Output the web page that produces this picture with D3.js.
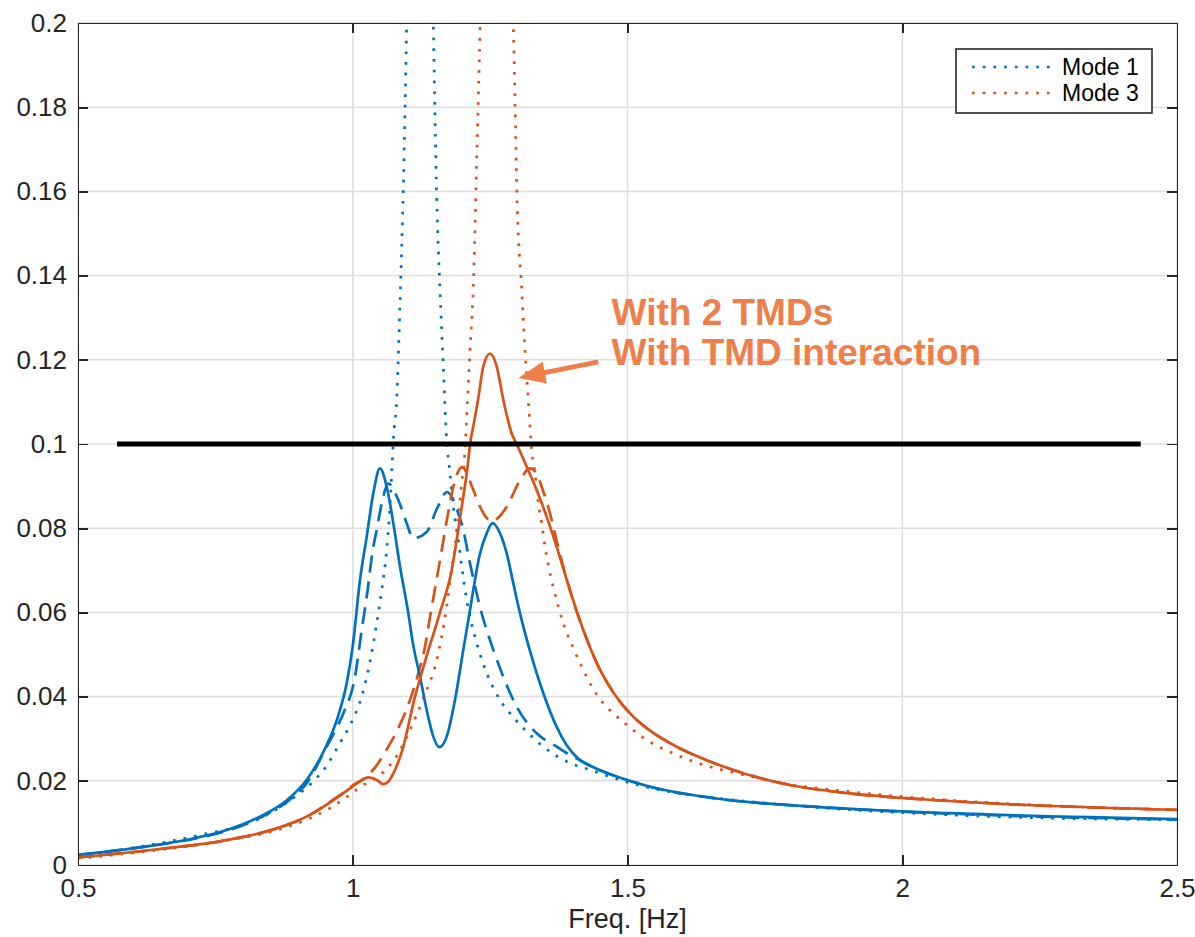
<!DOCTYPE html>
<html>
<head>
    <title>Freq. response with TMDs</title>
    <meta charset="utf-8" />
    <style>
        body { margin: 0; background: #fff; }
        svg { display: block; font-family: "Liberation Sans", Arial, Helvetica, sans-serif; }

        /* Axis style */
        .axis path,
        .axis line {
            stroke: #262626;
            stroke-width: 1.6;
            shape-rendering: crispEdges;
        }
        .axis text {
            fill: #262626;
            font-size: 26px;
        }
        .grid line {
            stroke: #dedede;
            stroke-width: 1.5;
        }
    </style>
    <script src="https://d3js.org/d3.v7.min.js"></script>
</head>
<body>
<script>

// ---- data: [freq Hz, amplitude] ----
let mode1Solid = [
    [0.5, 0.0024], [0.619, 0.0043], [0.7098, 0.0063], [0.7706, 0.0083], [0.831, 0.0115],
    [0.88, 0.0154], [0.916, 0.0202], [0.9526, 0.0285], [0.9737, 0.0355], [0.989, 0.0432],
    [1.0, 0.052], [1.0132, 0.0677], [1.0254, 0.078], [1.0374, 0.0883], [1.0496, 0.0942],
    [1.0617, 0.0899], [1.0738, 0.0812], [1.086, 0.0709], [1.1011, 0.0598], [1.109, 0.053],
    [1.1224, 0.0447], [1.1346, 0.0368], [1.1466, 0.0305], [1.1575, 0.028], [1.171, 0.0305],
    [1.186, 0.0392], [1.2012, 0.0511], [1.2134, 0.0606], [1.2316, 0.074], [1.2438, 0.0788],
    [1.2543, 0.0812], [1.268, 0.0788], [1.2802, 0.074], [1.2922, 0.0669], [1.3013, 0.0615],
    [1.3226, 0.0508], [1.3468, 0.0408], [1.3711, 0.0328], [1.389, 0.0285], [1.4136, 0.0249],
    [1.44, 0.0231], [1.4803, 0.021], [1.541, 0.0186], [1.6623, 0.0158], [1.8443, 0.0138],
    [2.0869, 0.0123], [2.5, 0.0109]
];

let mode1Dashed = [
    [0.5, 0.0024], [0.619, 0.0043], [0.7098, 0.0062], [0.7706, 0.0081], [0.831, 0.0112],
    [0.8918, 0.0162], [0.916, 0.0194], [0.9526, 0.0281], [0.9677, 0.0318], [0.9828, 0.036],
    [1.004, 0.0447], [1.0163, 0.0558], [1.0254, 0.0637], [1.0374, 0.0756], [1.0436, 0.0796],
    [1.0527, 0.0859], [1.0647, 0.0906], [1.0829, 0.0867], [1.098, 0.0812], [1.1102, 0.0776],
    [1.1346, 0.0791], [1.1528, 0.0845], [1.1715, 0.0886], [1.183, 0.0867], [1.1921, 0.0835],
    [1.2012, 0.0796], [1.2103, 0.0736], [1.2346, 0.0598], [1.2558, 0.0511], [1.274, 0.0447],
    [1.2983, 0.0376], [1.3347, 0.0313], [1.3711, 0.0281], [1.3954, 0.0261], [1.4136, 0.0249],
    [1.44, 0.0231], [1.4803, 0.021], [1.541, 0.0186], [1.6623, 0.0158], [1.8443, 0.0138],
    [2.0869, 0.0122], [2.5, 0.0108]
];

let mode1Dotted = [
    [0.5, 0.0022], [0.65, 0.0052], [0.74, 0.0076], [0.782, 0.0088], [0.8434, 0.0119],
    [0.8913, 0.0159], [0.9277, 0.0198], [0.9526, 0.0236], [0.9768, 0.029], [0.997, 0.0337],
    [1.016, 0.0399], [1.031, 0.048], [1.0436, 0.0574], [1.0527, 0.0653], [1.0617, 0.0748],
    [1.0665, 0.0827], [1.0709, 0.093], [1.0738, 0.101], [1.08, 0.1105], [1.086, 0.1335],
    [1.092, 0.161], [1.098, 0.199], [1.122, 0.45], [1.1466, 0.1998], [1.1528, 0.1587],
    [1.1588, 0.1364], [1.1648, 0.1184], [1.1709, 0.101], [1.177, 0.093], [1.183, 0.0851],
    [1.1921, 0.0772], [1.1983, 0.0709], [1.2074, 0.0629], [1.2256, 0.0527], [1.2438, 0.0456],
    [1.268, 0.0392], [1.2916, 0.0352], [1.3166, 0.0317], [1.3468, 0.0281], [1.3954, 0.0242],
    [1.4318, 0.0226], [1.4864, 0.0202], [1.5591, 0.0178], [1.6624, 0.0159], [1.8443, 0.0137],
    [2.0869, 0.0119], [2.5, 0.0107]
];

let mode3Solid = [
    [0.5, 0.0018], [0.6492, 0.0038], [0.7706, 0.0059], [0.8616, 0.0087], [0.9222, 0.0119],
    [0.9646, 0.0154], [0.995, 0.0182], [1.0132, 0.0199], [1.0283, 0.0208], [1.0436, 0.0202],
    [1.0556, 0.0192], [1.0647, 0.0198], [1.0769, 0.0226], [1.0891, 0.0268], [1.1133, 0.04],
    [1.1351, 0.0499], [1.1588, 0.06], [1.1801, 0.0701], [1.1892, 0.0772], [1.1983, 0.0851],
    [1.2074, 0.093], [1.2147, 0.101], [1.2198, 0.1045], [1.228, 0.1105], [1.2376, 0.1184],
    [1.2498, 0.1215], [1.262, 0.1184], [1.274, 0.1105], [1.2893, 0.1025], [1.2983, 0.1],
    [1.3166, 0.0946], [1.3347, 0.0891], [1.353, 0.0827], [1.3711, 0.0756], [1.3832, 0.0704],
    [1.3954, 0.0652], [1.4196, 0.0558], [1.4439, 0.048], [1.4742, 0.041], [1.5046, 0.036],
    [1.541, 0.0319], [1.5895, 0.0281], [1.6441, 0.0249], [1.7108, 0.0218], [1.7957, 0.019],
    [1.9049, 0.017], [2.0869, 0.0152], [2.5, 0.0131]
];

let mode3Dashed = [
    [0.5, 0.0018], [0.6492, 0.0038], [0.7706, 0.0059], [0.8616, 0.0087], [0.9222, 0.0119],
    [0.9586, 0.015], [0.9768, 0.0166], [1.001, 0.019], [1.0254, 0.021], [1.0465, 0.0242],
    [1.0647, 0.0281], [1.0829, 0.0325], [1.1042, 0.0392], [1.1193, 0.0455], [1.1315, 0.0519],
    [1.1406, 0.0589], [1.1588, 0.0724], [1.1733, 0.0834], [1.183, 0.0898], [1.1988, 0.0945],
    [1.2194, 0.0891], [1.2316, 0.0851], [1.2528, 0.0817], [1.2802, 0.0851], [1.3013, 0.0906],
    [1.3226, 0.0942], [1.3347, 0.093], [1.3439, 0.0898], [1.359, 0.0835], [1.365, 0.0803],
    [1.3832, 0.0708], [1.3954, 0.0652], [1.4196, 0.0558], [1.4439, 0.048], [1.4742, 0.041],
    [1.5046, 0.036], [1.541, 0.0319], [1.5895, 0.0281], [1.6441, 0.0249], [1.7108, 0.0218],
    [1.7957, 0.019], [1.9049, 0.017], [2.0869, 0.0152], [2.5, 0.0131]
];

let mode3Dotted = [
    [0.5, 0.0016], [0.6492, 0.0036], [0.7706, 0.0059], [0.8616, 0.0083], [0.9222, 0.0111],
    [0.9586, 0.0135], [1.0192, 0.019], [1.0556, 0.0221], [1.0829, 0.0265], [1.1042, 0.0321],
    [1.1284, 0.0396], [1.1528, 0.0487], [1.171, 0.0614], [1.1801, 0.0705], [1.1861, 0.0756],
    [1.1921, 0.0827], [1.1983, 0.0907], [1.2043, 0.0986], [1.2088, 0.1105], [1.2134, 0.1223],
    [1.2194, 0.1373], [1.2256, 0.1675], [1.2316, 0.1981], [1.262, 0.45], [1.2922, 0.1998],
    [1.2953, 0.1817], [1.2984, 0.1611], [1.3075, 0.1366], [1.3135, 0.1223], [1.3195, 0.1105],
    [1.3257, 0.0986], [1.3317, 0.093], [1.3377, 0.0859], [1.3439, 0.0811], [1.3499, 0.0756],
    [1.3559, 0.0713], [1.3741, 0.0614], [1.3832, 0.0574], [1.4014, 0.0515], [1.4167, 0.0471],
    [1.4349, 0.0424], [1.456, 0.0384], [1.4742, 0.036], [1.4985, 0.0333], [1.5349, 0.0297],
    [1.5833, 0.0265], [1.638, 0.0238], [1.6987, 0.0218], [1.7835, 0.0194], [1.9049, 0.0174],
    [2.0869, 0.0154], [2.5, 0.0131]
];

// limit line at 0.1
let limitY = 0.1;
let limitX = [0.571, 2.434];

let xTicks = [0.5, 1, 1.5, 2, 2.5];
let xTickLabels = ["0.5", "1", "1.5", "2", "2.5"];
let yTicks = [0, 0.02, 0.04, 0.06, 0.08, 0.1, 0.12, 0.14, 0.16, 0.18, 0.2];
let yTickLabels = ["0", "0.02", "0.04", "0.06", "0.08", "0.1", "0.12", "0.14", "0.16", "0.18", "0.2"];

let legendNames = ["Mode 1", "Mode 3"];
let annotationLines = ["With 2 TMDs", "With TMD interaction"];

// ---- layout ----
let realW = 1195,
    realH = 937;
let margin = { top: 23, right: 18, bottom: 72, left: 78 };
let w = realW - margin.left - margin.right,
    h = realH - margin.top - margin.bottom;

let blue = "#0072BD",
    orange = "#D95319",
    noteColor = "#EE7F4B";

let xScale = d3.scaleLinear().domain([0.5, 2.5]).range([0, w]);
let yScale = d3.scaleLinear().domain([0, 0.2]).range([h, 0]);

let svg = d3.select("body")
    .append("svg")
    .attr("width", realW)
    .attr("height", realH);

let g = svg.append("g")
    .attr("transform", "translate(" + margin.left + "," + margin.top + ")");

g.append("clipPath")
    .attr("id", "plotClip")
    .append("rect")
    .attr("width", w)
    .attr("height", h);

// grid
let grid = g.append("g").attr("class", "grid");
grid.selectAll("line.gx")
    .data(xTicks)
    .enter()
    .append("line")
    .attr("x1", d => xScale(d)).attr("x2", d => xScale(d))
    .attr("y1", 0).attr("y2", h);
grid.selectAll("line.gy")
    .data(yTicks)
    .enter()
    .append("line")
    .attr("y1", d => yScale(d)).attr("y2", d => yScale(d))
    .attr("x1", 0).attr("x2", w);

// curves
let line = d3.line()
    .x(d => xScale(d[0]))
    .y(d => yScale(d[1]))
    .curve(d3.curveMonotoneX);

let series = [
    { data: mode1Dotted, color: blue, dash: "2.7,8" },
    { data: mode3Dotted, color: orange, dash: "2.7,8" },
    { data: mode1Dashed, color: blue, dash: "17,9" },
    { data: mode3Dashed, color: orange, dash: "17,9" },
    { data: mode1Solid, color: blue, dash: null },
    { data: mode3Solid, color: orange, dash: null }
];

let curves = g.append("g").attr("clip-path", "url(#plotClip)");
curves.selectAll("path")
    .data(series)
    .enter()
    .append("path")
    .attr("d", d => line(d.data))
    .attr("fill", "none")
    .attr("stroke", d => d.color)
    .attr("stroke-width", 2.7)
    .attr("stroke-dasharray", d => d.dash);

// black limit line
g.append("line")
    .attr("x1", xScale(limitX[0]))
    .attr("x2", xScale(limitX[1]))
    .attr("y1", yScale(limitY))
    .attr("y2", yScale(limitY))
    .attr("stroke", "#000")
    .attr("stroke-width", 5);

// axes, MATLAB style box with ticks pointing in
let xAxis = d3.axisBottom(xScale).tickValues(xTicks)
    .tickFormat((d, i) => xTickLabels[i]).tickSize(-10).tickPadding(14);
let yAxis = d3.axisLeft(yScale).tickValues(yTicks)
    .tickFormat((d, i) => yTickLabels[i]).tickSize(-10).tickPadding(11);

g.append("g").attr("class", "axis")
    .attr("transform", "translate(0," + h + ")")
    .call(xAxis);
g.append("g").attr("class", "axis")
    .call(yAxis);
g.append("g").attr("class", "axis")
    .call(d3.axisTop(xScale).tickValues(xTicks).tickSize(-10).tickFormat(""));
g.append("g").attr("class", "axis")
    .attr("transform", "translate(" + w + ",0)")
    .call(d3.axisRight(yScale).tickValues(yTicks).tickSize(-10).tickFormat(""));

g.selectAll(".axis .domain").attr("stroke-width", 2);

// x label
g.append("text")
    .attr("x", xScale(1.5))
    .attr("y", h + 63)
    .attr("text-anchor", "middle")
    .attr("fill", "#262626")
    .style("font-size", "27px")
    .text("Freq. [Hz]");

// annotation
let note = g.append("g");
note.selectAll("text")
    .data(annotationLines)
    .enter()
    .append("text")
    .attr("x", xScale(1.471))
    .attr("y", (d, i) => yScale(0.1283) + i * 40)
    .attr("fill", noteColor)
    .style("font-size", "37px")
    .style("font-weight", "bold")
    .text(d => d);

let tail = [xScale(1.4469), yScale(0.1195)],
    tip = [xScale(1.3013), yScale(0.1157)];
let dx = tip[0] - tail[0], dy = tip[1] - tail[1];
let len = Math.sqrt(dx * dx + dy * dy);
let ux = dx / len, uy = dy / len;
let headL = 27, headW = 11;
note.append("line")
    .attr("x1", tail[0]).attr("y1", tail[1])
    .attr("x2", tip[0] - ux * (headL - 4)).attr("y2", tip[1] - uy * (headL - 4))
    .attr("stroke", noteColor)
    .attr("stroke-width", 5);
let bx = tip[0] - ux * headL, by = tip[1] - uy * headL;
note.append("path")
    .attr("d", "M" + tip[0] + "," + tip[1] +
        "L" + (bx - uy * headW) + "," + (by + ux * headW) +
        "L" + (bx + uy * headW) + "," + (by - ux * headW) + "Z")
    .attr("fill", noteColor);

// legend
let legend = svg.append("g").attr("transform", "translate(956,49)");
legend.append("rect")
    .attr("width", 196)
    .attr("height", 64)
    .attr("fill", "#fff")
    .attr("stroke", "#262626")
    .attr("stroke-width", 1.6);
let items = legend.selectAll("g.item")
    .data(legendNames)
    .enter()
    .append("g")
    .attr("transform", (d, i) => "translate(0," + (18 + i * 26) + ")");
items.append("line")
    .attr("x1", 16).attr("x2", 96)
    .attr("stroke", (d, i) => i === 0 ? blue : orange)
    .attr("stroke-width", 2.7)
    .attr("stroke-dasharray", "2.7,8");
items.append("text")
    .attr("x", 106)
    .attr("y", 8)
    .attr("fill", "#000")
    .style("font-size", "23px")
    .text(d => d);

</script>
</body>
</html>
